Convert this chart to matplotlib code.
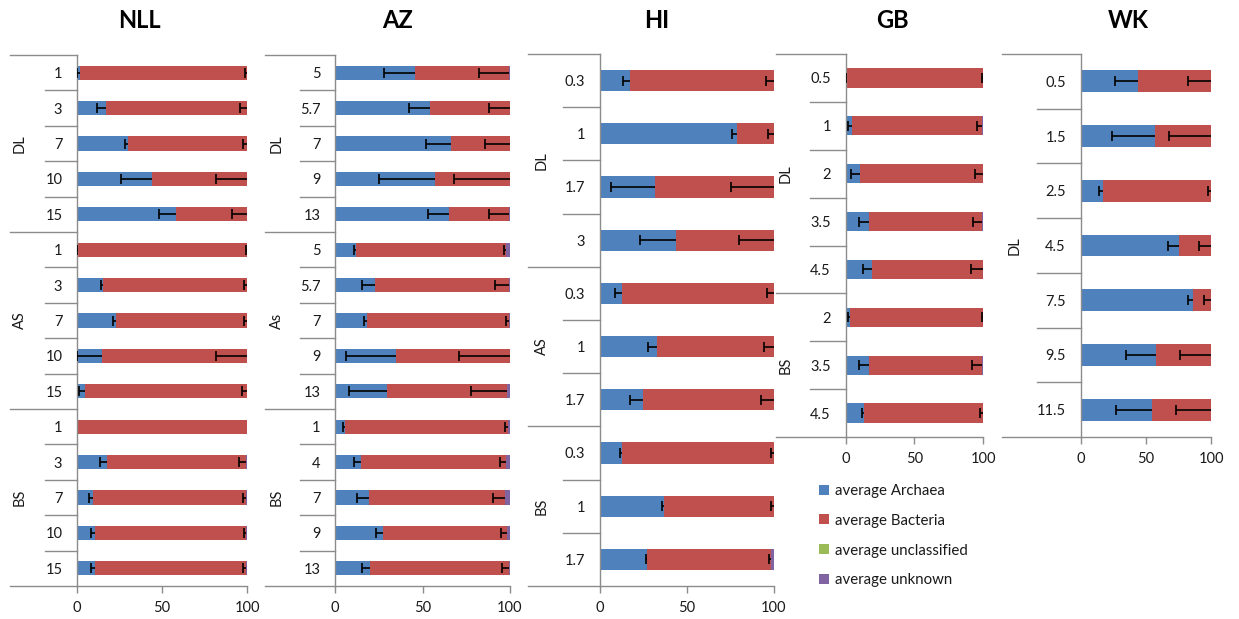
"""Stacked community composition bars for the five sites, one panel each."""

import matplotlib.pyplot as plt
import numpy as np

plt.rcParams['font.family'] = ['Lato', 'DejaVu Sans']

W, H = 1239, 619

# NLL
nll_groups = ['DL', 'AS', 'BS']
nll_sizes = [5, 5, 5]
nll_depths = ['1', '3', '7', '10', '15', '1', '3', '7', '10', '15', '1', '3', '7', '10', '15']
nll_archaea = [1.5, 17, 30, 44, 58, 0.5, 15.5, 23, 14.5, 4.5, 0.2, 17.5, 9.5, 10.5, 10.5]
nll_bacteria = [98.5, 83, 70, 56, 42, 99.5, 84.5, 77, 85.5, 95.5, 99.8, 82, 90, 89, 89]
nll_unclassified = [0] * 15
nll_unknown = [0, 0, 0, 0, 0, 0, 0, 0, 0, 0, 0, 0.5, 0.5, 0.5, 0.5]
nll_archaea_err = [1.5, 5, 2, 18, 10, 0.5, 1.5, 2, 14.5, 3.5, 0, 4, 2.3, 2.5, 2.5]
nll_bacteria_err = [1, 4, 2.5, 18, 9, 0.5, 2, 1.5, 18, 3, 0, 4, 2, 1, 2]

# AZ
az_groups = ['DL', 'As', 'BS']
az_sizes = [5, 5, 5]
az_depths = ['5', '5.7', '7', '9', '13', '5', '5.7', '7', '9', '13', '1', '4', '7', '9', '13']
az_archaea = [45.5, 54.5, 66.5, 57, 65, 12, 23, 18, 35, 29.5, 5.5, 15, 19.5, 27.5, 20]
az_bacteria = [54, 45.5, 33.5, 43, 34.5, 85.5, 76.5, 81.5, 65, 69, 93.5, 83, 77.5, 71, 79.5]
az_unclassified = [0] * 15
az_unknown = [0.5, 0, 0, 0, 0.5, 2.5, 0.5, 0.5, 0, 1.5, 1, 2, 3, 1.5, 0.5]
az_archaea_err = [17.5, 12, 14.5, 32, 12, 1, 7.5, 1.5, 28.5, 21.5, 1.2, 4, 7, 4, 4.5]
az_bacteria_err = [17.5, 12, 14.5, 32, 11.5, 0.8, 8, 2, 29, 21, 2, 3.5, 7, 3.5, 4]

# HI
hi_groups = ['DL', 'AS', 'BS']
hi_sizes = [4, 3, 3]
hi_depths = ['0.3', '1', '1.7', '3', '0.3', '1', '1.7', '0.3', '1', '1.7']
hi_archaea = [17, 79, 31.5, 43.5, 12.5, 32.5, 24.5, 12.5, 37, 27]
hi_bacteria = [83, 21, 68.5, 56.5, 87.5, 67.5, 75.5, 87.5, 63, 71]
hi_unclassified = [0] * 10
hi_unknown = [0, 0, 0, 0, 0, 0, 0, 0, 0, 2]
hi_archaea_err = [3.5, 3, 25, 20.5, 4, 5, 7.5, 1, 1.5, 0.5]
hi_bacteria_err = [4.5, 3.5, 24.5, 20, 4, 6, 7.5, 1.5, 1.5, 1]

# GB
gb_groups = ['DL', 'BS']
gb_sizes = [5, 3]
gb_depths = ['0.5', '1', '2', '3.5', '4.5', '2', '3.5', '4.5']
gb_archaea = [0.7, 4.5, 10.5, 17, 19.5, 3.5, 17, 13.5]
gb_bacteria = [99.3, 94.8, 89.5, 82.3, 80.5, 96.5, 82.3, 86.5]
gb_unclassified = [0] * 8
gb_unknown = [0, 0.7, 0, 0.7, 0, 0, 0.7, 0]
gb_archaea_err = [0.5, 2.5, 6.5, 7.5, 7, 1.7, 7, 1.5]
gb_bacteria_err = [0.5, 4, 6, 6.5, 8.5, 0.5, 7, 2.5]

# WK
wk_groups = ['DL']
wk_sizes = [7]
wk_depths = ['0.5', '1.5', '2.5', '4.5', '7.5', '9.5', '11.5']
wk_archaea = [44, 57, 17.5, 75.5, 86.5, 58, 54.5]
wk_bacteria = [56, 43, 82.5, 24.5, 13.5, 42, 45.5]
wk_unclassified = [0] * 7
wk_unknown = [0] * 7
wk_archaea_err = [17.5, 32.5, 3, 8.5, 4.5, 23, 27]
wk_bacteria_err = [17.5, 32, 2.2, 9, 5.5, 24, 27]

clr = {
	'Archaea': '#4F81BD',
	'Bacteria': '#C0504D',
	'unclassified': '#9BBB59',
	'unknown': '#8064A2',
}
grey = '#8c8c8c'
txt = '#1a1a1a'


def site(fig, box, title, title_x, groups, sizes, depths, series, errors, long_x, short_x, group_x):
	""" One panel of horizontal stacked bars.
	:param box: (left, right, top, bottom) of the plotting area in pixels
	:param series: list of (name, values) stacked from left to right
	:param errors: minus-only error bars for Archaea and Archaea+Bacteria
	:param long_x, short_x, group_x: pixel x of the category separators / group label
	"""
	left, right, top, bottom = box
	ax = fig.add_axes([left / W, 1 - bottom / H, (right - left) / W, (bottom - top) / H])
	n = len(depths)
	y = np.arange(n)

	start = np.zeros(n)
	for name, vals in series:
		ax.barh(y, vals, left=start, height=0.4, color=clr[name], linewidth=0,
				label='average ' + name, zorder=2)
		start = start + np.array(vals)

	# error bars sit on the end of the Archaea and Bacteria segments
	tip = np.zeros(n)
	for (name, vals), err in zip(series[:2], errors):
		tip = tip + np.array(vals)
		err = np.array(err, dtype=float)
		m = err > 0
		ax.hlines(y[m], tip[m] - err[m], tip[m], color='black', lw=1.2, zorder=3)
		ax.plot(tip[m] - err[m], y[m], ls='none', marker='|', ms=7, mew=1.2,
				color='black', zorder=3)

	ax.set_xlim(0, 100)
	ax.set_ylim(n - 0.5, -0.5)
	for s in ['top', 'right']:
		ax.spines[s].set_visible(False)
	for s in ['left', 'bottom']:
		ax.spines[s].set_color(grey)
		ax.spines[s].set_linewidth(1)

	ax.set_xticks([0, 50, 100])
	ax.tick_params(axis='x', length=5, width=1, color=grey, labelsize=10.5,
				   labelcolor=txt, pad=6)
	ax.set_yticks(y)
	ax.set_yticklabels(depths)
	ax.tick_params(axis='y', length=0, labelsize=10.5, labelcolor=txt, pad=10.5)

	# category separators: long ones between groups, short ones between depths
	trans = ax.get_yaxis_transform()
	fx = lambda px: (px - left) / (right - left)
	bounds = np.concatenate([[0], np.cumsum(sizes)]) - 0.5
	for yb in np.arange(n + 1) - 0.5:
		x_from = long_x if yb in bounds else short_x
		ax.plot([fx(x_from), 0], [yb, yb], transform=trans, color=grey, lw=1, clip_on=False)
	for g, lo, hi in zip(groups, bounds[:-1], bounds[1:]):
		ax.text(fx(group_x), (lo + hi) / 2, g, transform=trans, rotation=90,
				ha='center', va='center', fontsize=10.5, color=txt)

	fig.text(title_x / W, 1 - 28 / H, title, ha='center', va='baseline',
			 fontsize=17, fontweight='bold', color='black')
	return ax


def stack(archaea, bacteria, unclassified, unknown):
	return [('Archaea', archaea), ('Bacteria', bacteria),
			('unclassified', unclassified), ('unknown', unknown)]


fig = plt.figure(figsize=(W / 100, H / 100), dpi=100)

site(fig, (77, 247, 55, 586), 'NLL', 139, nll_groups, nll_sizes, nll_depths,
	 stack(nll_archaea, nll_bacteria, nll_unclassified, nll_unknown),
	 [nll_archaea_err, nll_bacteria_err], 10, 45, 20)
site(fig, (335, 510, 55, 586), 'AZ', 398, az_groups, az_sizes, az_depths,
	 stack(az_archaea, az_bacteria, az_unclassified, az_unknown),
	 [az_archaea_err, az_bacteria_err], 265, 300, 277)
site(fig, (600, 774, 54, 586), 'HI', 657, hi_groups, hi_sizes, hi_depths,
	 stack(hi_archaea, hi_bacteria, hi_unclassified, hi_unknown),
	 [hi_archaea_err, hi_bacteria_err], 528, 563, 542)
gb = site(fig, (845.5, 983, 54, 437), 'GB', 892, gb_groups, gb_sizes, gb_depths,
		  stack(gb_archaea, gb_bacteria, gb_unclassified, gb_unknown),
		  [gb_archaea_err, gb_bacteria_err], 776, 810, 786)
site(fig, (1080.5, 1211, 54, 437), 'WK', 1128, wk_groups, wk_sizes, wk_depths,
	 stack(wk_archaea, wk_bacteria, wk_unclassified, wk_unknown),
	 [wk_archaea_err, wk_bacteria_err], 1002, 1037, 1015)

handles, labels = gb.get_legend_handles_labels()
fig.legend(handles, labels, loc='upper left', bbox_to_anchor=(819 / W, 1 - 484 / H),
		   frameon=False, fontsize=10.8, handlelength=0.65, handleheight=0.65,
		   handletextpad=0.4, labelspacing=1.05, borderpad=0, borderaxespad=0,
		   labelcolor=txt)

fig.savefig('out.png', dpi=100, facecolor='white')
